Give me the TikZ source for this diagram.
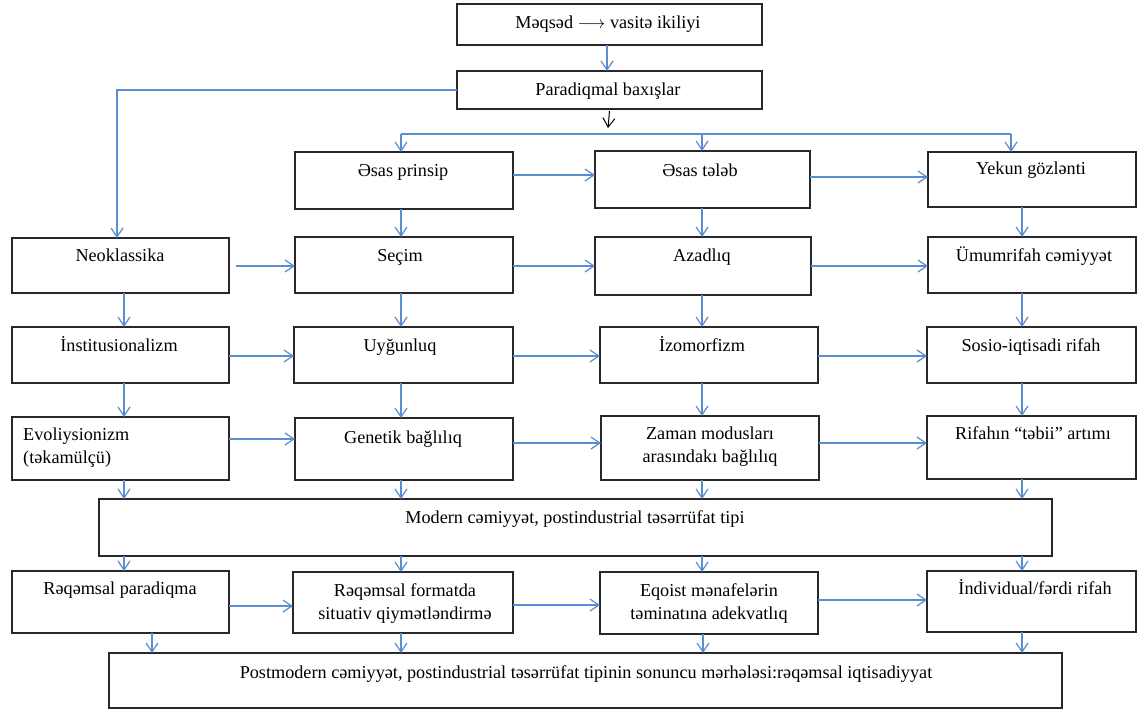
\documentclass[tikz,border=0pt]{standalone}
\usepackage{fontspec}
\setmainfont{Liberation Serif}
\usetikzlibrary{arrows.meta,fit,calc}
\definecolor{conn}{RGB}{91,142,206}
\definecolor{edge}{RGB}{40,40,40}
\begin{document}
\begin{tikzpicture}[x=1pt,y=-1pt,
  box/.style={draw=edge,line width=1.3pt,inner sep=0pt,outer sep=0pt},
  txt/.style={inner sep=0pt,anchor=base,font=\fontsize{18.2}{23}\selectfont,align=center},
  con/.style={draw=conn,line width=1.2pt,-{Straight Barb[length=9pt,width=12pt,line width=1.2pt]}},
  bus/.style={draw=conn,line width=1.2pt},
  blk/.style={draw=black,line width=1pt,-{Straight Barb[length=9pt,width=12pt,line width=1pt]}}]
\useasboundingbox (0,0) rectangle (1137,710);
% boxes
\node[box,fit={(457,4)(762,45)}] (top) {};
\node[box,fit={(457,71)(762,109)}] (par) {};
\node[box,fit={(295,152)(513,209)}] (pri) {};
\node[box,fit={(595,151)(810,208)}] (tel) {};
\node[box,fit={(928,152)(1136,207)}] (yek) {};
\node[box,fit={(12,238)(229,293)}] (neo) {};
\node[box,fit={(295,237)(513,293)}] (sec) {};
\node[box,fit={(595,237)(811,295)}] (aza) {};
\node[box,fit={(928,237)(1136,293)}] (umu) {};
\node[box,fit={(12,327)(229,383)}] (ins) {};
\node[box,fit={(294,327)(513,383)}] (uyg) {};
\node[box,fit={(600,327)(818,383)}] (izo) {};
\node[box,fit={(927,327)(1136,383)}] (sos) {};
\node[box,fit={(12,417)(229,480)}] (evo) {};
\node[box,fit={(295,418)(513,480)}] (gen) {};
\node[box,fit={(601,416)(819,480)}] (zam) {};
\node[box,fit={(927,416)(1136,479)}] (rif) {};
\node[box,fit={(99,499)(1052,556)}] (mod) {};
\node[box,fit={(12,571)(229,633)}] (rp) {};
\node[box,fit={(293,572)(513,633)}] (rf) {};
\node[box,fit={(600,572)(818,634)}] (eq) {};
\node[box,fit={(927,571)(1136,632)}] (ind) {};
\node[box,fit={(109,653)(1062,708)}] (post) {};
% texts
\node[txt] (top-t) at (608,28.5) {Məqsəd $\longrightarrow$ vasitə ikiliyi};
\node[txt] (par-t) at (608,95.5) {Paradiqmal baxışlar};
\node[txt] (pri-t) at (403,176) {Əsas prinsip};
\node[txt] (tel-t) at (700,176) {Əsas tələb};
\node[txt] (yek-t) at (1031,174) {Yekun gözlənti};
\node[txt] (neo-t) at (120,261) {Neoklassika};
\node[txt] (sec-t) at (400,261) {Seçim};
\node[txt] (aza-t) at (702,261) {Azadlıq};
\node[txt] (umu-t) at (1034,261) {Ümumrifah cəmiyyət};
\node[txt] (ins-t) at (119,351) {İnstitusionalizm};
\node[txt] (uyg-t) at (400,351) {Uyğunluq};
\node[txt] (izo-t) at (702,351) {İzomorfizm};
\node[txt] (sos-t) at (1031,351) {Sosio-iqtisadi rifah};
\node[txt,anchor=base west,align=left] (evo-t) at (23,463) {Evoliysionizm\\(təkamülçü)};
\node[txt] (gen-t) at (403,443) {Genetik bağlılıq};
\node[txt] (zam-t) at (710,462) {Zaman modusları\\arasındakı bağlılıq};
\node[txt] (rif-t) at (1033,439) {Rifahın “təbii” artımı};
\node[txt] (mod-t) at (575,523) {Modern cəmiyyət, postindustrial təsərrüfat tipi};
\node[txt] (rp-t) at (120,594) {Rəqəmsal paradiqma};
\node[txt] (rf-t) at (405,619) {Rəqəmsal formatda\\situativ qiymətləndirmə};
\node[txt] (eq-t) at (709,619) {Eqoist mənafelərin\\təminatına adekvatlıq};
\node[txt] (ind-t) at (1035,594) {İndividual/fərdi rifah};
\node[txt] (post-t) at (586,678) {Postmodern cəmiyyət, postindustrial təsərrüfat tipinin sonuncu mərhələsi:rəqəmsal iqtisadiyyat};
% top connectors
\draw[con] (top.south -| 607,0) -- (par.north -| 607,0);
\draw[con] (par.west) -| ([xshift=-3.5pt]neo.north);
\coordinate (blkend) at (608,128);
\draw[blk] ([yshift=-2pt]par.south) -- (blkend);
\coordinate (busL) at (401,134);
\coordinate (busR) at (1011,134);
\draw[bus] (busL) -- (busR);
\draw[con] (busL) -- (pri.north -| busL);
\draw[con] (busL -| 702,0) -- (tel.north -| 702,0);
\draw[con] (busR) -- (yek.north -| busR);
% horizontal connectors
\draw[con] (pri.east |- 0,175) -- (tel.west |- 0,175);
\draw[con] (tel.east |- 0,177) -- (yek.west |- 0,177);
\draw[con] ([xshift=7pt]neo.east |- 0,266) -- (sec.west |- 0,266);
\draw[con] (sec.east |- 0,266) -- (aza.west |- 0,266);
\draw[con] (aza.east |- 0,266) -- (umu.west |- 0,266);
\draw[con] (ins.east |- 0,356) -- (uyg.west |- 0,356);
\draw[con] (uyg.east |- 0,356) -- (izo.west |- 0,356);
\draw[con] (izo.east |- 0,356) -- (sos.west |- 0,356);
\draw[con] (evo.east |- 0,439) -- (gen.west |- 0,439);
\draw[con] (gen.east |- 0,443) -- (zam.west |- 0,443);
\draw[con] (zam.east |- 0,443) -- (rif.west |- 0,443);
\draw[con] (rp.east |- 0,606) -- (rf.west |- 0,606);
\draw[con] (rf.east |- 0,605) -- (eq.west |- 0,605);
\draw[con] (eq.east |- 0,600) -- (ind.west |- 0,600);
% vertical connectors
\draw[con] (pri.south -| 401,0) -- (sec.north -| 401,0);
\draw[con] (tel.south -| 702,0) -- (aza.north -| 702,0);
\draw[con] (yek.south -| 1022,0) -- (umu.north -| 1022,0);
\draw[con] (neo.south -| 124,0) -- (ins.north -| 124,0);
\draw[con] (sec.south -| 401,0) -- (uyg.north -| 401,0);
\draw[con] (aza.south -| 702,0) -- (izo.north -| 702,0);
\draw[con] (umu.south -| 1022,0) -- (sos.north -| 1022,0);
\draw[con] (ins.south -| 124,0) -- (evo.north -| 124,0);
\draw[con] (uyg.south -| 401,0) -- (gen.north -| 401,0);
\draw[con] (izo.south -| 702,0) -- (zam.north -| 702,0);
\draw[con] (sos.south -| 1022,0) -- (rif.north -| 1022,0);
\draw[con] (evo.south -| 124,0) -- (mod.north -| 124,0);
\draw[con] (gen.south -| 401,0) -- (mod.north -| 401,0);
\draw[con] (zam.south -| 702,0) -- (mod.north -| 702,0);
\draw[con] (rif.south -| 1022,0) -- (mod.north -| 1022,0);
\draw[con] (mod.south -| 124,0) -- (rp.north -| 124,0);
\draw[con] (mod.south -| 401,0) -- (rf.north -| 401,0);
\draw[con] (mod.south -| 702,0) -- (eq.north -| 702,0);
\draw[con] (mod.south -| 1022,0) -- (ind.north -| 1022,0);
\draw[con] (rp.south -| 152,0) -- (post.north -| 152,0);
\draw[con] (rf.south -| 401,0) -- (post.north -| 401,0);
\draw[con] (eq.south -| 703,0) -- (post.north -| 703,0);
\draw[con] (ind.south -| 1022,0) -- (post.north -| 1022,0);
\end{tikzpicture}
\end{document}
